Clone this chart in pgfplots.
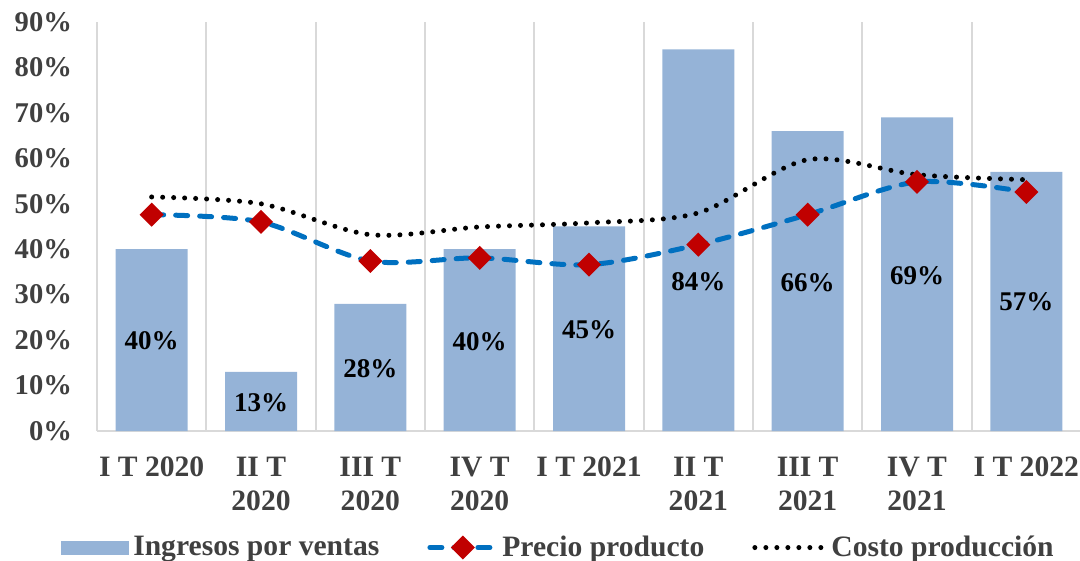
\documentclass[border=0pt]{standalone}
\usepackage{fontspec}
\setmainfont{Liberation Serif}
\usepackage{pgfplots}
\pgfplotsset{compat=1.18}
\definecolor{barblue}{HTML}{95B3D7}
\definecolor{lineblue}{HTML}{0070C0}
\definecolor{dred}{HTML}{C00000}
\definecolor{tickgray}{HTML}{404040}
\definecolor{gridgray}{HTML}{D9D9D9}
\newcommand{\lfont}{\fontsize{14.8}{17}\selectfont\bfseries}
\newcommand{\yfont}{\fontsize{14.3}{17}\selectfont\bfseries}
\newcommand{\dfont}{\fontsize{13.5}{16}\selectfont\bfseries}
\pgfplotsset{
  barlegend/.style={legend image code/.code={\fill[barblue] (0pt,-3.5pt) rectangle (34pt,3.5pt);}},
  linelegend/.style={legend image code/.code={\draw[##1, mark repeat=2, mark phase=2] plot coordinates {(0pt,0pt) (16.5pt,0pt) (33pt,0pt)};}},
  dotlegend/.style={legend image code/.code={\draw[##1] (0pt,0pt) -- (35pt,0pt);}},
}
\begin{document}
\begin{tikzpicture}
\path[use as bounding box] (-48.5pt,-65pt) rectangle (491.5pt,215.5pt);
\begin{axis}[
  at={(0,0)}, anchor=south west,
  scale only axis, width=492pt, height=204.5pt,
  xmin=-0.5, xmax=8.5, ymin=0, ymax=90,
  axis lines=left,
  x axis line style={-, gridgray, line width=1pt},
  y axis line style={draw=none},
  major tick length=0pt, minor tick length=0pt,
  xtick={0,...,8},
  xticklabels={{I T 2020},{II T\\2020},{III T\\2020},{IV T\\2020},{I T 2021},{II T\\2021},{III T\\2021},{IV T\\2021},{I T 2022}},
  xticklabel style={align=center, font=\lfont, text=tickgray, yshift=-9.5pt},
  minor xtick={-0.5,0.5,...,8.5},
  xminorgrids, minor grid style={gridgray, line width=1pt},
  ytick={0,10,...,90},
  yticklabels={0\%,10\%,20\%,30\%,40\%,50\%,60\%,70\%,80\%,90\%},
  yticklabel style={font=\yfont, text=tickgray, xshift=-9pt},
  legend style={at={(0.47,-0.285)}, anchor=center, draw=none, fill=none,
    font=\lfont, text=tickgray, legend columns=3,
    /tikz/every even column/.append style={column sep=22pt}},
  clip=false,
]
\addplot[ybar, bar width=36pt, fill=barblue, draw=none, barlegend]
  table {
x y
0 40
1 13
2 28
3 40
4 45
5 84
6 66
7 69
8 57
};
\addlegendentry{Ingresos por ventas}
\addplot[lineblue, line width=2.5pt, line cap=round, dash pattern=on 6pt off 6pt, smooth,
  mark=square*, mark options={solid, fill=dred, draw=dred, rotate=45, mark size=3pt}, linelegend]
  table {
x y
0 47.6
1 46.0
2 37.4
3 38.1
4 36.6
5 41.0
6 47.6
7 54.8
8 52.6
};
\addlegendentry{Precio producto}
\addplot[black, line width=2.5pt, line cap=round, dash pattern=on 0pt off 5.5pt, smooth, dotlegend]
  table {
x y
0 51.5
1 50.0
2 43.2
3 44.9
4 45.8
5 48.0
6 59.7
7 56.4
8 55.3
};
\addlegendentry{Costo producción}
\addplot[draw=none, mark=none, forget plot, point meta=explicit,
  /pgf/number format/assume math mode=true,
  nodes near coords={\pgfmathprintnumber{\pgfplotspointmeta}\%},
  every node near coord/.style={anchor=center, font=\dfont, text=black}]
  table[meta=v] {
x y v
0 19.8 40
1 6.2 13
2 13.6 28
3 19.6 40
4 22.4 45
5 32.8 84
6 32.6 66
7 34.1 69
8 28.4 57
};
\end{axis}
\end{tikzpicture}
\end{document}
